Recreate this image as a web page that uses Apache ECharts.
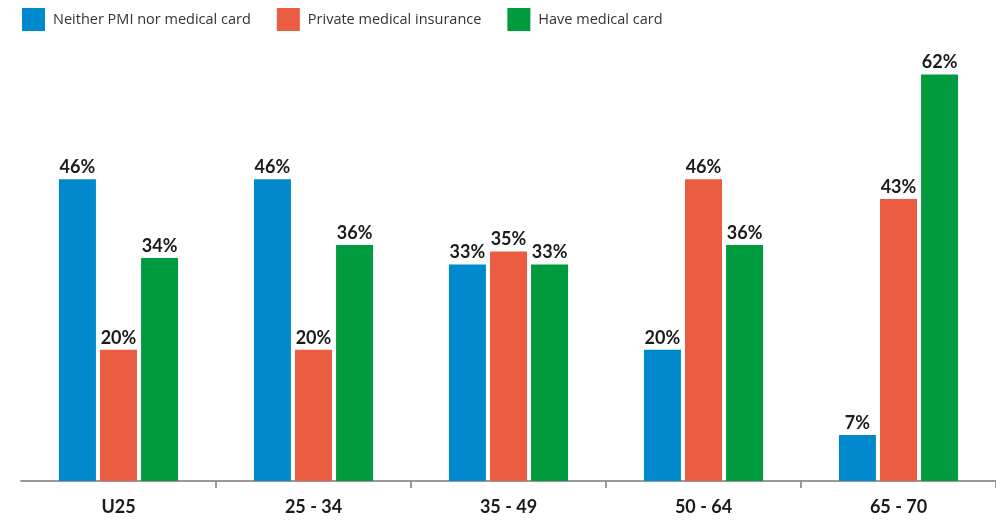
<!DOCTYPE html>
<html>
<head>
<meta charset="utf-8">
<script src="https://cdn.jsdelivr.net/npm/echarts@6/dist/echarts.min.js"></script>
<style>
  html, body { margin: 0; padding: 0; background: #fff; }
  #chart { width: 996px; height: 522px; }
</style>
</head>
<body>
<div id="chart"></div>
<script>
// Age bands and share of each cover type (%)
const categories = ['U25', '25 - 34', '35 - 49', '50 - 64', '65 - 70'];
const neitherPmiNorCard = [46, 46, 33, 20, 7];
const privateMedical = [20, 20, 35, 46, 43];
const medicalCard = [34, 36, 33, 36, 62];
const seriesNames = ['Neither PMI nor medical card', 'Private medical insurance', 'Have medical card'];
const colors = ['#0089CD', '#EA5D41', '#009A3F'];

const chart = echarts.init(document.getElementById('chart'), null, { renderer: 'canvas' });

const valueLabel = {
  show: true,
  position: 'top',
  distance: 3,
  formatter: '{c}%',
  fontFamily: 'Lato',
  fontWeight: 'bold',
  fontSize: 18,
  color: '#1b1b1b'
};

function barSeries(name, data, color) {
  return {
    name: name,
    type: 'bar',
    data: data,
    barWidth: 37,
    barGap: '11%',
    itemStyle: { color: color },
    label: valueLabel,
    emphasis: { disabled: true }
  };
}

chart.setOption({
  animation: false,
  color: colors,
  legend: {
    left: 17,
    top: 3,
    itemWidth: 23,
    itemHeight: 23,
    itemGap: 26,
    icon: 'rect',
    textStyle: { fontFamily: 'Open Sans', fontSize: 14.5, color: '#333', padding: [0, 0, 0, 3] },
    data: seriesNames
  },
  grid: { left: 21, right: 0, top: 22, bottom: 41, containLabel: false },
  xAxis: {
    type: 'category',
    data: categories,
    axisLine: { lineStyle: { color: '#9a9a9a', width: 2 } },
    axisTick: {
      show: true,
      length: 7,
      lineStyle: { color: '#9a9a9a', width: 2 },
      // only the dividers between age bands
      interval: function (index) { return index > 0; }
    },
    axisLabel: {
      margin: 17,
      fontFamily: 'Lato',
      fontWeight: 'bold',
      fontSize: 18,
      color: '#1b1b1b'
    }
  },
  yAxis: {
    type: 'value',
    min: 0,
    max: 70,
    show: false,
    splitLine: { show: false }
  },
  series: [
    barSeries(seriesNames[0], neitherPmiNorCard, colors[0]),
    barSeries(seriesNames[1], privateMedical, colors[1]),
    barSeries(seriesNames[2], medicalCard, colors[2])
  ]
});
</script>
</body>
</html>
